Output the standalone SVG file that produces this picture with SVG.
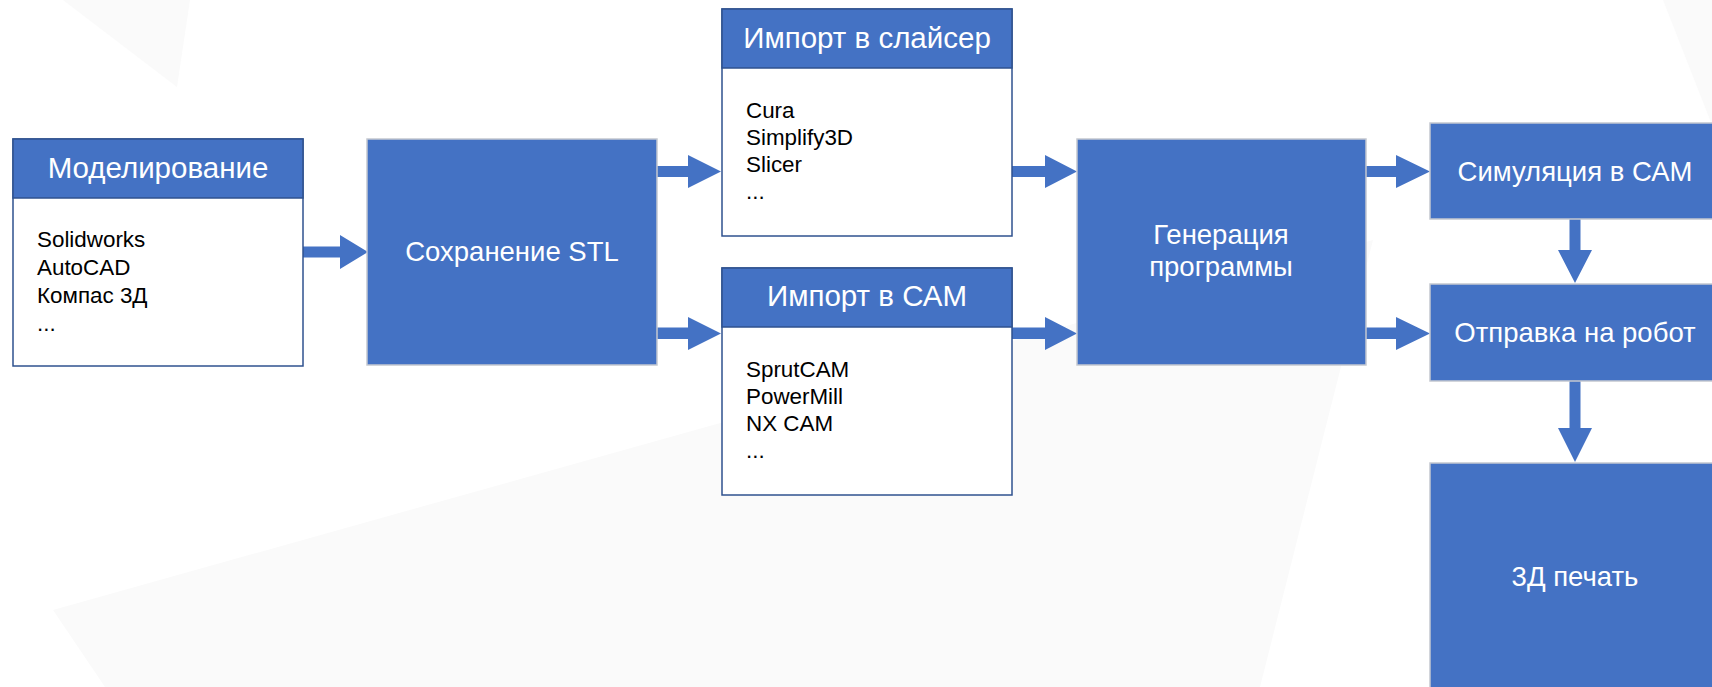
<svg xmlns="http://www.w3.org/2000/svg" width="1712" height="687" viewBox="0 0 1712 687">
<style>
.bg{fill:#fafafa}
.solid{fill:#4472C4;stroke:#c4c8d0;stroke-width:1.5}
.frame{fill:#ffffff;stroke:#2F528F;stroke-width:1.5}
.head{fill:#4472C4;stroke:#2F528F;stroke-width:1.5}
.wt{font-family:"Liberation Sans",Arial,sans-serif;font-size:27.5px;fill:#ffffff;text-anchor:middle}
.ht{font-size:29.5px}
.bt{font-family:"Liberation Sans",Arial,sans-serif;font-size:22.4px;fill:#000000}
.arr{fill:#4472C4}
</style>
<rect width="1712" height="687" fill="#ffffff"/>
<g id="background">
<polygon class="bg" points="63,0 190,0 177,87"/>
<polygon class="bg" points="53,610 1373,240 1260,687 105,687"/>
<polygon class="bg" points="1663,0 1712,0 1712,125"/>
</g>
<g id="connectors">
<polygon class="arr" points="303,246.5 340,246.5 340,235 368,252 340,269 340,257.5 303,257.5"/>
<polygon class="arr" points="657,166 688,166 688,155 721,171.5 688,188 688,177 657,177"/>
<polygon class="arr" points="657,327.5 688,327.5 688,317 721,333.5 688,350 688,339 657,339"/>
<polygon class="arr" points="1012,166 1045,166 1045,155 1077,171.5 1045,188 1045,177 1012,177"/>
<polygon class="arr" points="1012,327.5 1045,327.5 1045,317 1077,333.5 1045,350 1045,339 1012,339"/>
<polygon class="arr" points="1366,166 1396,166 1396,155 1430,171.5 1396,188 1396,177 1366,177"/>
<polygon class="arr" points="1366,327.5 1396,327.5 1396,317 1430,333.5 1396,350 1396,339 1366,339"/>
<polygon class="arr" points="1569.5,219 1580.5,219 1580.5,250 1592,250 1575,283 1558,250 1569.5,250"/>
<polygon class="arr" points="1569.5,381 1580.5,381 1580.5,428 1592,428 1575,462 1558,428 1569.5,428"/>
</g>
<g id="node-modeling">
<rect class="frame" x="13" y="139" width="290" height="227"/>
<rect class="head" x="13" y="139" width="290" height="59"/>
<text class="wt ht" x="158" y="178">Моделирование</text>
<text class="bt" x="37" y="247">Solidworks</text>
<text class="bt" x="37" y="275">AutoCAD</text>
<text class="bt" x="37" y="303">Компас 3Д</text>
<text class="bt" x="37" y="331">...</text>
</g>
<g id="node-stl">
<rect class="solid" x="367" y="139" width="290" height="226"/>
<text class="wt" x="512" y="261">Сохранение STL</text>
</g>
<g id="node-slicer">
<rect class="frame" x="722" y="9" width="290" height="227"/>
<rect class="head" x="722" y="9" width="290" height="59"/>
<text class="wt ht" x="867" y="48">Импорт в слайсер</text>
<text class="bt" x="746" y="118">Cura</text>
<text class="bt" x="746" y="145">Simplify3D</text>
<text class="bt" x="746" y="172">Slicer</text>
<text class="bt" x="746" y="199">...</text>
</g>
<g id="node-cam">
<rect class="frame" x="722" y="268" width="290" height="227"/>
<rect class="head" x="722" y="268" width="290" height="59"/>
<text class="wt ht" x="867" y="306">Импорт в САМ</text>
<text class="bt" x="746" y="377">SprutCAM</text>
<text class="bt" x="746" y="404">PowerMill</text>
<text class="bt" x="746" y="431">NX CAM</text>
<text class="bt" x="746" y="458">...</text>
</g>
<g id="node-gen">
<rect class="solid" x="1077" y="139" width="289" height="226"/>
<text class="wt" x="1221" y="244">Генерация</text>
<text class="wt" x="1221" y="276">программы</text>
</g>
<g id="node-sim">
<rect class="solid" x="1430" y="123" width="290" height="96"/>
<text class="wt" x="1575" y="181">Симуляция в САМ</text>
</g>
<g id="node-send">
<rect class="solid" x="1430" y="284" width="290" height="97"/>
<text class="wt" x="1575" y="342">Отправка на робот</text>
</g>
<g id="node-print">
<rect class="solid" x="1430" y="463" width="290" height="240"/>
<text class="wt" x="1575" y="586">3Д печать</text>
</g>
</svg>
